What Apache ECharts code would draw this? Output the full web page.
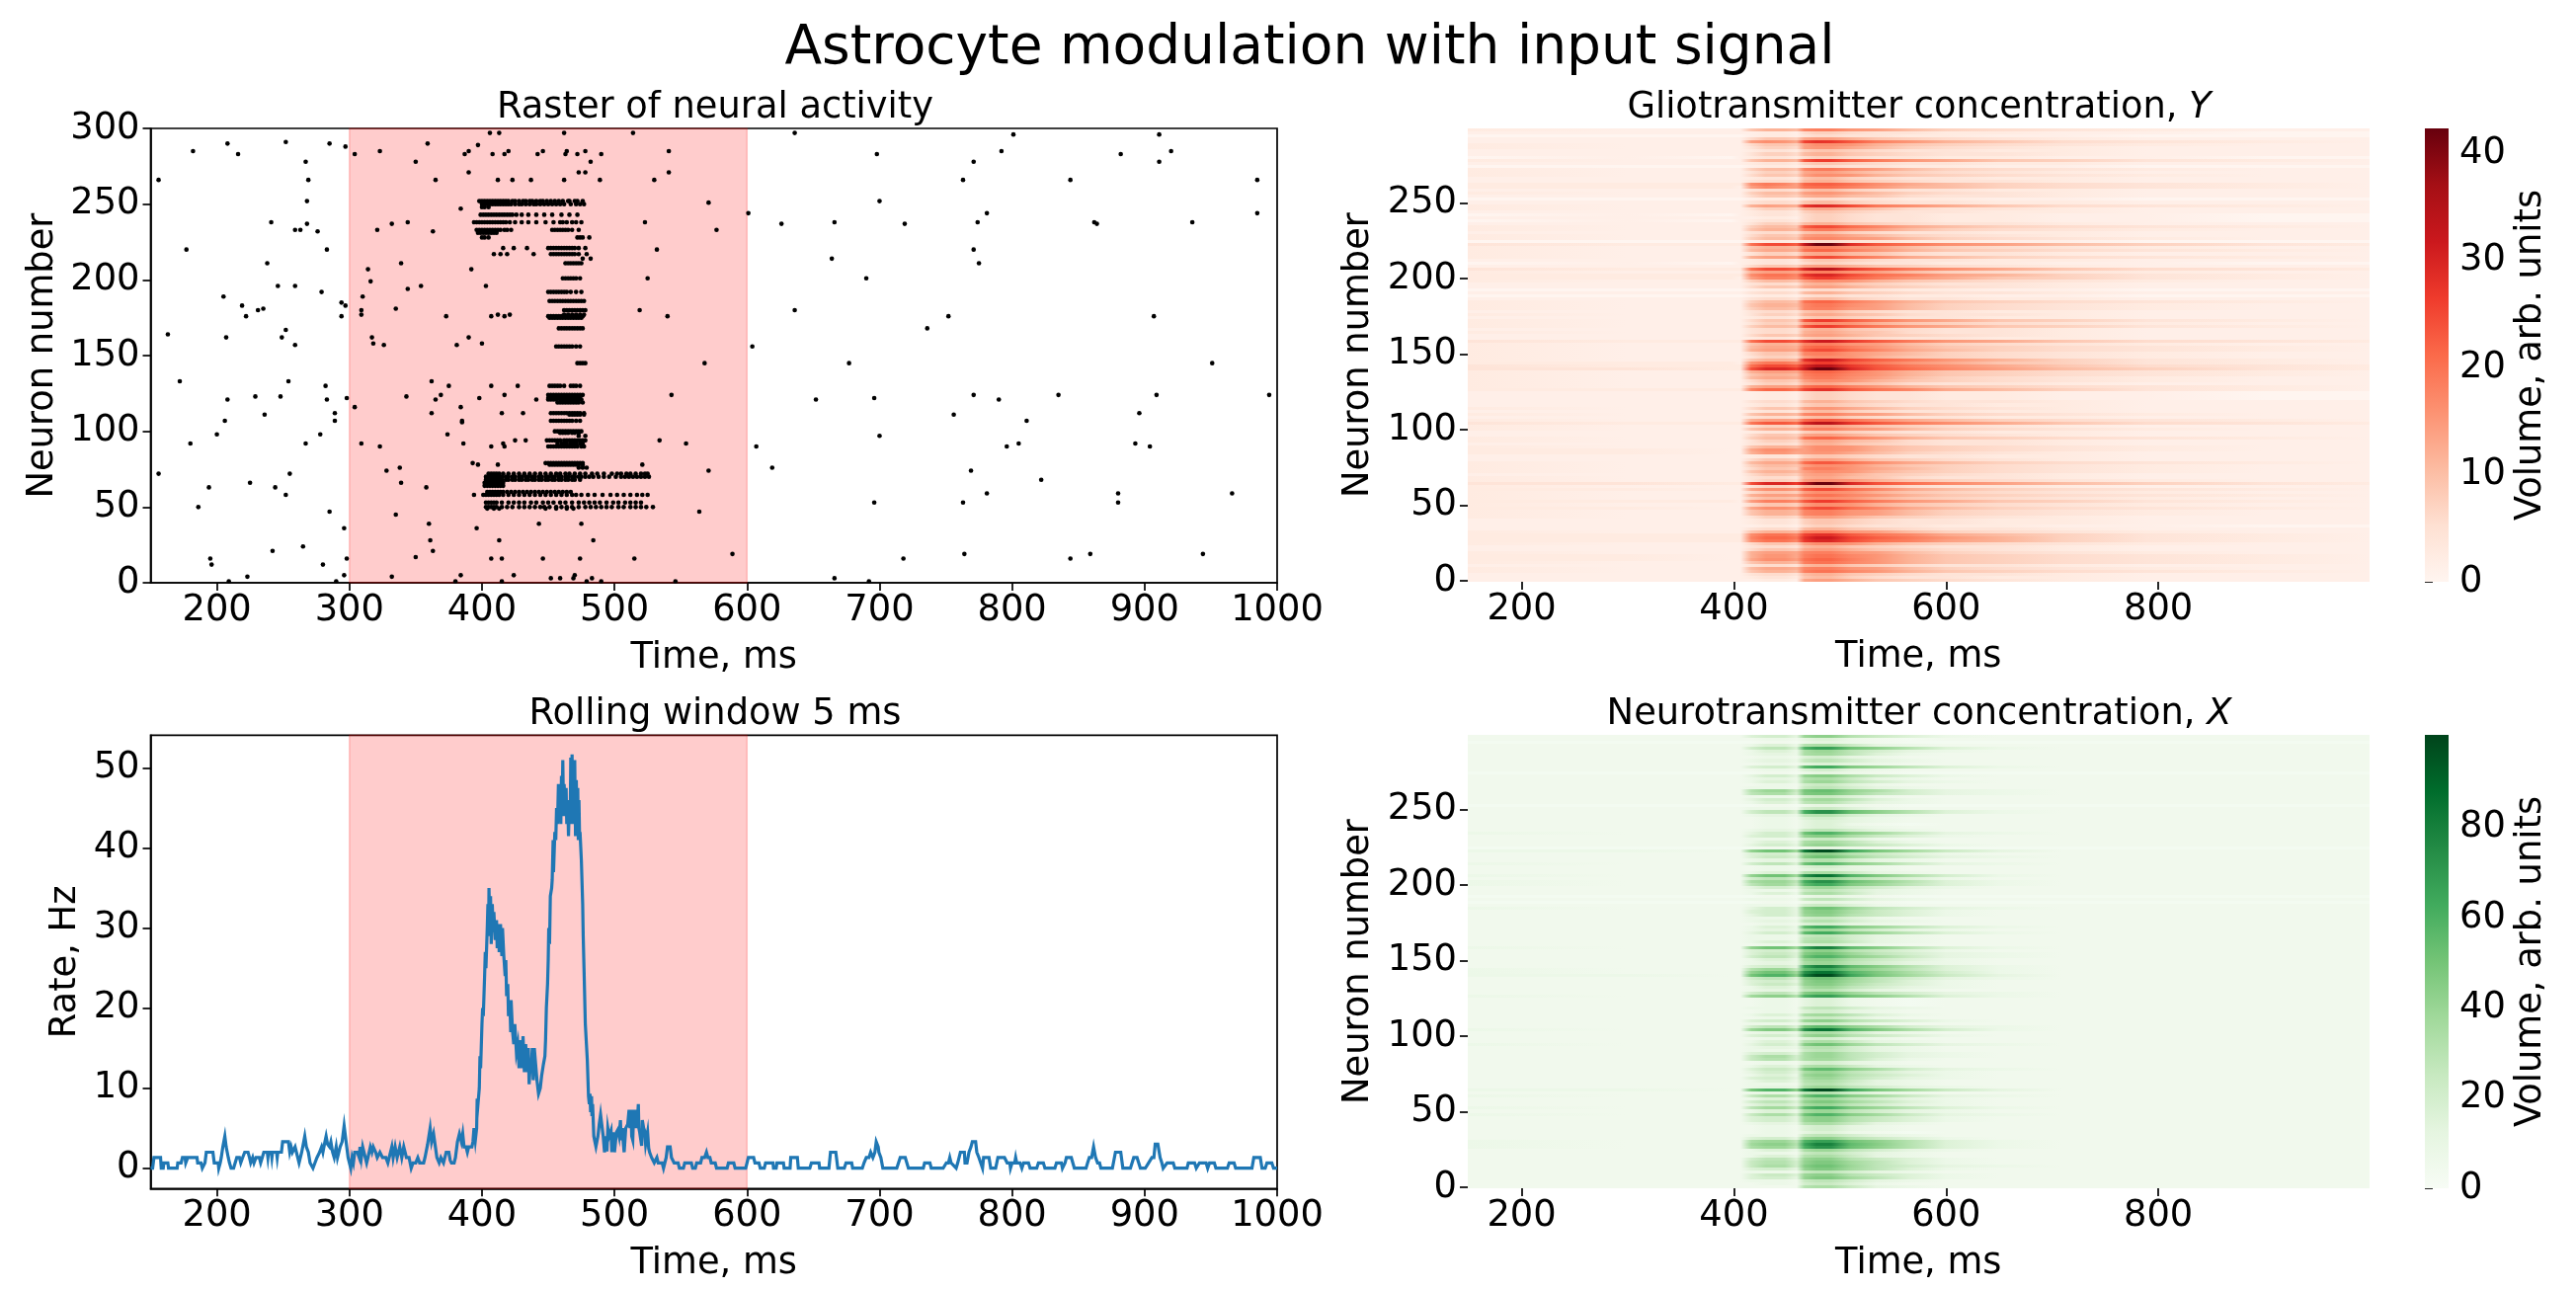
<!DOCTYPE html>
<html><head><meta charset="utf-8">
<style>html,body{margin:0;padding:0;background:#fff}#c{width:2608px;height:1306px}</style>
<script src="https://cdn.jsdelivr.net/npm/echarts@6/dist/echarts.min.js"></script>
</head><body><div id="c"></div>
<script>
const FONT='DejaVu Sans';
const figureTitle='Astrocyte modulation with input signal';
const rasterXTicks=[200,300,400,500,600,700,800,900,1000];
const rasterYTicks=[0,50,100,150,200,250,300];
const rateYTicks=[0,10,20,30,40,50];
const heatXTicks=[200,400,600,800];
const heatYTicks=[0,50,100,150,200,250];
const redsTicks=[0,10,20,30,40];
const greensTicks=[0,20,40,60,80];
const stimulusWindow=[[300,600]];
const redsStops=['#fff5f0','#fee0d2','#fcbba1','#fc9272','#fb6a4a','#ef3b2c','#cb181d','#a50f15','#67000d'];
const greensStops=['#f7fcf5','#e5f5e0','#c7e9c0','#a1d99b','#74c476','#41ab5d','#238b45','#006d2c','#00441b'];
const redsMax=42.3, greensMax=100.5;
// what each base-36 level in the row strings stands for, in arb. units
const redsLevelValues=[0,1.4,2.6,4.2,5.8,7.4,9,10.4,11.8,13,14.2,15.4,16.4,17.4,18.4,19.2,20,20.8,21.6,22.4,23.2,24,24.8,25.6,26.4,27.2,28,28.8,29.6,30.6,31.6,32.6,34,36,39,42];
const greensLevelValues=[0,2.5,4.5,8,12,16,20,24,28,31,34,37,39,41,43,45,47,49,51,53,55,57,59,61,63,65,67,70,73,76,79,82,85,88,93,98];

// isolated spikes read from the raster: [time ms, neuron]
const sparseSpikes=[[182,285],[208,290],[216,283],[252,291],[285,290],[297,288],[304,283],[323,285],[350,278],[359,290],[267,278],[156,266],[269,266],[268,252],[365,266],[390,271],[397,289],[387,283],[390,285],[408,283],[417,283],[420,285],[406,297],[413,297],[412,266],[423,266],[437,266],[442,283],[446,285],[462,297],[463,283],[464,285],[472,283],[478,285],[490,283],[482,278],[473,271],[478,271],[462,266],[489,266],[514,297],[541,285],[541,271],[530,266],[571,251],[601,244],[523,238],[577,233],[532,220],[525,201],[519,180],[540,176],[604,156],[568,145],[543,124],[534,94],[554,92],[607,90],[619,76],[521,78],[571,74],[564,47],[589,19],[515,16],[546,1],[490,1],
[241,238],[259,233],[263,233],[268,237],[276,232],[321,233],[332,237],[344,238],[363,232],[384,247],[177,220],[283,220],[238,211],[314,207],[339,211],[392,207],[316,199],[246,196],[259,196],[279,192],[344,194],[354,196],[403,196],[205,189],[310,189],[219,183],[294,185],[297,183],[231,180],[235,181],[309,180],[335,181],[222,176],[294,176],[309,177],[373,176],[407,176],[412,177],[417,176],[421,177],[252,167],[163,164],[207,162],[249,162],[317,162],[318,158],[326,157],[259,157],[390,162],[381,157],[400,158],[172,133],[254,133],[362,133],[375,130],[282,130],[407,130],[427,130],[229,123],[248,123],[208,121],[283,121],[298,122],[343,123],[369,124],[365,121],[398,122],[417,124],[441,121],[304,116],[384,116],[236,111],[289,112],[362,112],[415,112],[431,112],[206,107],[289,107],[385,107],[385,106],[200,98],[278,98],[374,98],[180,92],[267,92],[309,92],[386,92],[323,90],[407,90],[416,92],[417,90],[425,94],[433,94],[393,79],[397,78],[412,78],[338,76],[328,74],[156,72],[255,72],[225,66],[339,66],[194,63],[244,63],[358,63],[252,58],[394,58],[186,50],[285,47],[335,45],[360,39],[443,39],[475,39],[296,36],[396,36],[361,28],[413,28],[484,28],[265,24],[242,21],[363,21],[195,16],[298,16],[350,17],[407,16],[415,16],[446,16],[474,16],[196,12],[280,12],[223,4],[296,5],[332,4],[384,5],[424,5],[452,3],[459,3],[469,3],[470,5],[483,3],[209,1],[290,1],[380,1],[415,1],[479,1],
[636,297],[698,283],[801,296],[911,296],[792,285],[920,285],[882,283],[771,278],[911,278],[763,266],[844,266],[985,266],[700,252],[781,244],[985,244],[626,237],[666,238],[719,237],[774,238],[862,238],[864,237],[936,238],[771,220],[664,214],[775,211],[690,201],[636,180],[752,176],[907,176],[736,168],[677,145],[951,145],[771,124],[835,124],[909,124],[994,124],[652,121],[696,122],[790,121],[756,111],[896,112],[811,107],[700,97],[796,90],[805,92],[893,92],[904,90],[769,74],[822,68],[781,59],[880,59],[966,59],[696,53],[763,53],[880,53],[718,16],[764,19],[844,16],[859,19],[944,19],[666,3],[692,1]];

// firing trains of the synchronised neurons: [neuron, [spike times ms]]
const denseTrains=[
[252,[398,400,402,404,406,408,410,412,414,416,418,420,423,425,428,431,433,436,438,441,444,446,449,452,455,458,461,465,466,470,472,476]],
[250,[400,402,404,406,408,410,412,414,416,418,420,422,425,428,430,433,436,439,441,444,447,450,453,456,459,462,467,471,474,477]],
[248,[400,402,405]],
[243,[399,401,403,405,407,409,411,413,415,417,419,421,423,426,430,435,441,447,453,460,466,472]],
[238,[394,396,398,400,402,404,406,408,410,412,414,416,418,421,425,430,435,441,448,454,459,461,464,468,471,475]],
[233,[396,398,400,402,404,406,408,410,412,414,417,419,422,453,455,457,459,461,463,465,468,473]],
[231,[397,399,401,403,405,407,409,411]],
[228,[400,402,405,472,474,476,481]],
[221,[416,424,434,450,452,454,456,458,460,462,464,466,468,470,473,478]],
[217,[409,414,419,439,452,454,456,458,460,462,464,466,468,470,473,479]],
[214,[476,482]],
[211,[463,465,467,469,471,473,475]],
[201,[461,463,465,467,469,471,474]],
[192,[450,452,454,456,458,460,462,464,467,471,475]],
[186,[451,453,455,457,459,461,463,465,467,469,471,473,475,477]],
[180,[462,464,466,468,470,472,474,476,478]],
[177,[462,465,468,471,474,477]],
[176,[450,452,454,456,458,460,462,464,466,468,470,472,474,476]],
[175,[451,453,455,457,459,461,463,465,467,469,471,473,475]],
[168,[458,460,462,464,466,468,470,472,474,476]],
[156,[456,458,460,462,464,466,468,471,474]],
[145,[472,474,476,478]],
[130,[451,453,455,457,459,462,467,469,471,474]],
[124,[450,452,454,456,458,460,462,464,466,468,470,472,474,476]],
[122,[450,452,454,456,458,460,462,464,466,468,470,472,474]],
[121,[450,452,454,456,459,461,463,465,467,469,471,473,475]],
[119,[457,459,461,463,465,467,469,471,473,476]],
[112,[452,454,456,458,460,462,464,466,468,470,472,474,477]],
[111,[466,468,470,472,474,477]],
[107,[452,454,456,458,460,462,464,466,468,471,474]],
[100,[455,457,459,461,463,465,467,469,471,473,475]],
[99,[459,461,463,465,468,470,473]],
[97,[473,478]],
[94,[449,451,453,455,457,459,462,464,466,468,470,472,474,476,478]],
[92,[457,460,462,464,467,469,471,474,476]],
[90,[450,452,454,456,458,460,462,464,466,468,470,472,475,477]],
[79,[448,450,452,454,456,458,460,462,464,466,468,470,472,474,476]],
[78,[451,453,455,457,459,461,463,465,467,469,471,473,476]],
[76,[473,476,479]],
[72,[405,407,409,411,413,416,420,424,428,432,436,440,444,448,452,456,459,463,466,470,474,478,483,487,492,498,502,505,509,512,516,520,523,525]],
[70,[403,405,407,409,411,413,415,418,420,423,425,428,430,433,435,438,440,443,445,448,450,453,455,458,460,463,465,468,470,473,475,478,481,484,488,492,496,501,505,508,511,514,517,520,523,526]],
[68,[403,405,407,409,411,413,415,418,420,423,425,428,430,433,435,438,440,443,445,448,450,453,455,458,460,463,465,468,470,474]],
[66,[402,404,406,408,410,412,414,416]],
[64,[402,404,406,408,410,412,414,416]],
[60,[404,406,408,410,412,414,416,419,422,425,428,431,434,437,440,443,446,449,452,455,458,461,464,467]],
[58,[401,403,405,407,409,411,413,416,420,424,428,432,436,440,444,448,452,456,460,464,468,471,475,480,485,491,497,502,507,512,517,521,525]],
[53,[403,405,407,409,411,415,420,424,428,432,437,441,446,450,454,459,463,468,473,477,481,485,489,494,499,503,508,512,516,520]],
[50,[403,405,407,409,411,415,419,423,428,432,436,440,444,447,451,456,460,464,468,473,478,482,486,490,494,498,503,507,512,516,520,524,529]],
[49,[404,409,413,448,456,464,469]]
];

// population rate: [time ms, rate Hz]
const rateTrace=[[150,0],[151.5,0],[152.5,1.33],[157.5,1.33],[158,0],[159.5,0],[160,.67],[163,.67],[163.5,0],[170,0],[170.5,.67],[173,.67],[174,1.33],[176,1.33],[176.5,.67],[177.5,.67],[178,1.33],[185,1.33],[185.5,.67],[188,.67],[189,0],[190,0],[191,.67],[192,2],[197,2],[198,.67],[201,.67],[201.4,0],[202.5,.67],[203.3,1.33],[204.5,2.67],[206,4],[207,2.67],[208.6,1.33],[209.5,.67],[210.7,0],[212.6,0],[213.8,.67],[215,1.33],[217,1.33],[218,.67],[219.4,1.33],[221,2],[223.5,2],[224.6,1.33],[225.5,.67],[227,1.33],[228,.67],[229.5,1.33],[232,1.33],[233,.67],[234.2,1.33],[235.4,2],[238,2],[238.5,1.33],[239,2],[241,2],[241.5,1.33],[242,2],[245,2],[245.5,1.33],[246,2],[248.7,2],[249.6,3.3],[254,3.3],[255,2],[256,2.67],[257,2],[259,2.67],[260,2],[261,1.33],[262,.67],[264,2],[265.5,3.3],[266.3,4],[267.5,2.67],[269,2],[270.3,.67],[271.5,.67],[272.5,0],[274,.67],[275.5,1.33],[277.5,2],[279,2.67],[280,2],[281.5,3.3],[282.4,4],[283.5,3],[285,2.67],[286,3.3],[287.3,2],[288.5,1.33],[290,2.67],[291,1.33],[293,2.67],[294.5,3.3],[296,5.3],[297.5,3.3],[299,1.33],[300,.67],[301,0],[302,1.33],[303,.67],[304,2],[306,2],[307.4,1.33],[308,2.67],[309,1.33],[310,2.67],[311.4,2.67],[313,.67],[314,1.33],[315.8,2.67],[317,2],[318,2.67],[319.8,2],[321,1.33],[323,2],[325,1.33],[327.5,1.33],[329,.67],[330,1.33],[332,2.67],[333,1.33],[334.5,2.67],[336,1.33],[338,2.67],[339.5,1.33],[341,2.67],[343,1.33],[345,1.33],[346.6,0],[348,.67],[350,.67],[351.6,1.33],[353,.67],[356,.67],[357,1.33],[359,3],[360.9,5],[362,3.3],[363.5,4.3],[364.6,3],[366,1.33],[367.7,.67],[369,1.33],[371,.67],[373,2],[375,2],[376,1],[377,.67],[379,.67],[380,1.33],[381.5,3.3],[383,4.3],[384.5,3.3],[385.5,4.3],[386.5,2.67],[388,2.67],[389,2],[390,2.67],[392.4,2.67],[393.2,3.3],[394,5],[395,3.5],[396,5],[396.4,8.7],[397,8],[398,10],[398.5,14],[399,12.5],[400,18],[400.5,20],[401,19],[402,24],[402.5,27],[403,25],[404,30],[404.5,33],[405,29],[405.3,35],[406,30],[406.5,34],[407,28],[407.8,33],[408.5,29.5],[409,32],[410,28.5],[411,31],[411.5,27.5],[412.5,30.5],[413,27],[414,30.5],[415,26.5],[415.5,30],[416.5,26.5],[417.5,24],[418,26],[418.6,21.5],[419.5,23],[420,19],[421,21],[421.7,17],[422,21],[423,17.3],[424,15.5],[424.8,18],[426,14.5],[427,15.5],[428,12.5],[429,16],[430,12.5],[431,16.5],[432,12],[433,15.5],[434,12],[435,15],[435.6,10.5],[436.5,13],[437,12],[438,15],[438.7,11],[439.5,15],[440.5,13],[441.5,11],[442.7,9.3],[444,10],[445,11.5],[446.4,13],[447.5,14],[448,16],[448.6,20],[449.5,23],[450,26],[450.4,30],[451,28],[451.6,34],[452.6,35],[453,36],[453.7,41],[454,37],[455,42],[455.7,41],[456.3,45],[457,43],[457.7,48],[458.3,44],[458.8,47],[459.5,43],[460,49],[460.5,45],[461,51],[461.6,44],[462,48],[463,44],[463.5,47.5],[464,43],[464.7,46],[465.3,41.5],[466,46],[466.6,43],[467,51.3],[467.4,44],[468,51.7],[468.6,43],[469,49],[469.5,45],[470,51],[470.6,41.5],[471.2,48.5],[471.7,42.5],[472.3,47.5],[472.7,41],[473.2,46],[473.7,41],[474,42],[475,38.5],[476,33],[476.4,29],[477,25],[478,18],[479,15],[479.5,13.5],[480.4,9],[481,8],[481.5,9.3],[482,7],[482.7,9],[483,6.5],[483.5,8],[484.4,4],[485,3.5],[486,2.7],[487,2.7],[487.5,4],[488.5,5.5],[489.5,6.7],[490.6,6.6],[491.5,4],[492.5,2],[493.5,4],[494.3,2.1],[495,5],[496,4],[497.4,4.7],[498,2],[499,4.5],[500,2],[501,2],[501.5,4.5],[502.5,4.8],[503.5,4],[504.5,6],[505,3.5],[506,5],[506.5,3.5],[507.3,2],[508.5,5],[510,5.5],[511,7.3],[511.7,5],[512.5,7.3],[513,4],[513.8,3.5],[514.5,7.3],[515.3,5],[516,7.3],[517,5],[518,8],[518.4,5],[519,4.5],[520.5,2.8],[521,6],[522,5],[522.7,4.7],[523.5,3],[525,4.5],[525.8,2.5],[526.5,2],[528,1.33],[529,1.33],[530,.67],[532,1.33],[533,.67],[536,.67],[537,0],[539,1.33],[540,2.67],[542,2.67],[543,1.33],[545,.67],[548,.67],[549,0],[552,0],[553,.67],[558,.67],[559,0],[561,0],[562,.67],[565,.67],[566,1.33],[568,1.33],[569.4,2],[570.5,1.33],[572,1.33],[573,.67],[576,.67],[577,0],[585,0],[586,.67],[590,.67],[591,0],[599,0],[600,.67],[601,1.33],[605,1.33],[606,.67],[609,.67],[610,0],[613,0],[614,.67],[617.6,.67],[619.6,.67],[620,0],[622,0],[622.6,.67],[627.5,.67],[628,0],[632.5,0],[633,1.33],[638,1.33],[638.7,0],[647.4,0],[648.6,.67],[654.3,.67],[654.8,0],[661.8,0],[663,2],[667,2],[668.5,0],[673.4,0],[674.7,.67],[679,.67],[679.7,0],[687,0],[688.3,.67],[690,1.33],[692,1.33],[693.3,2],[695,1.33],[696.5,2],[697.5,3.3],[699,2.67],[699.5,2],[701,1.33],[702.5,0],[713,0],[715.6,1.33],[719.4,1.33],[721.8,0],[733,0],[734,.67],[738,.67],[739,0],[748,0],[750.4,.67],[752,.67],[753,1.33],[754,.67],[755.3,.67],[757.8,0],[759,.67],[761,2],[764,2],[764.5,.67],[766,.67],[767.5,2],[769,2.67],[770,3.3],[772.5,3.3],[773.4,2],[775,1.33],[776.4,1.33],[777.7,0],[778.5,1.33],[782.6,1.33],[783.9,0],[787.6,0],[789.3,1.33],[794.3,1.33],[796.3,.67],[798.3,.67],[798.8,0],[800,.67],[802,.67],[802.7,1.33],[803.5,.67],[806,.67],[807.4,0],[808.7,.67],[812.4,.67],[813.6,0],[818.6,0],[819.9,.67],[823.6,.67],[824.8,0],[832.3,0],[833.5,.67],[837.2,.67],[838,0],[840,.67],[841,1.33],[844.7,1.33],[847,0],[855.8,0],[857,.67],[858.3,1.33],[860,1.33],[861.5,2.67],[863,1.33],[864.5,.67],[866,.67],[867,0],[875.7,0],[878,2],[882,2],[883.6,0],[889.3,0],[891.8,1.33],[894.3,1.33],[896.8,0],[900.5,0],[903,.67],[905.5,1.33],[907,1.33],[908,3],[910,3],[911.7,1.33],[913,.67],[914,0],[917,.67],[921.6,.67],[922.8,0],[932,0],[933,.67],[937.7,.67],[939,0],[941.4,.67],[946.4,.67],[947.6,0],[949,.67],[952.6,.67],[953.8,0],[962.5,0],[963.8,.67],[967.5,.67],[968.7,0],[981,0],[982.4,1.33],[987.3,1.33],[988.6,0],[991,0],[992.3,.67],[996,.67],[997.3,0],[1000,0]];

// time points (ms) of the columns of both concentration maps
const heatTimes=[149.2,300,398,406,416,430,448,459,467,478,492,510,535,565,600,650,710,790,900,998.7];

// Y: each string is one 2-neuron row, top row first; one base-36 level per time point
const gliotransmitterRows=[
'21116887deeba7543211','11111221455433221100','00001221344332211000','111146659aa865432111','1111acb9nqpkeb864321','21114665accb86543211','21113554abb975432111','11112332566543322111','11113554788654332111','01012332455433221100',
'21116887koojfb965321','11112332566543322111','00001221344332211000','21115776dffca7543211','211135549aa865432111','21114665accb86543211','11112332677543322111','11113443788654332111','2222cfdaijjgc9754321','2221adbaghheb8754321',
'11113443677543322111','21115776abb975432111','11114665899764332111','00001221344332211000','11113443677543322111','21118a98psrmfc964321','21113554899764332111','11112332566543322111','01012332455433221100','11111221455433221100',
'01012332455433221100','11113554788654332111','21115776jmmhd9754321','21116887dffca7543211','11113443677543322111','21114665abb975432111','21115776cddba7543211','00001221344332211000','3222gmmjvzzrkgca7532','21116887deeba7543211',
'21117998giieb8654321','21113554899764332111','21118aa9jmmhd9754321','11112332566543322111','01012332455433221100','111146659aa865432111','3222gmmjswwpkfc96432','21118aa9deeba7543211','2222cggdpssmhea85321','2221aeeckoojfb965321',
'21115776accb86543211','11113443788654332111','111146659aa865432111','00001221344332211000','11113443788654332111','00001221344332211000','11113443677543322111','21115776giieb8654321','21116887dffca7543211','21115776deeba7543211',
'11113443677543322111','21113554899764332111','11112332566543322111','21114665koojfb965321','21113554accb86543211','21115776koojfb965321','11113443788654332111','21113443899764332111','111146659aa865432111','11112332566543322111',
'3222gmmjquupkfb96432','21116887deeba7543211','21117998giieb8654321','21118aa9jmmhd9754321','21114665deeb97543211','21113554accb86543211','21116887quunjfb85321','2221bffckoojfb965321','3222gmmjswwpkfc96432','3322lssovzzslhda7532',
'21118aa9giieb8654321','21116887eggdb8654321','21117998dffca7543211','21114665accb86543211','21113554899764332111','21118aa9giieb8654321','2222diifnqqkgd975321','11111221455433221100','11111221455433221100','11111221455433221100',
'11113443788654332111','11112332566543322111','21114665abb975432111','11112332677543322111','21116887deeba7543211','11113443677543322111','21118aa9hkkgc9754321','3222fkkhswwpkfc96432','211135549aa865432111','21116887deeba7543211',
'11112332566543322111','111146659aa865432111','21115776giieb8654321','21113554899764332111','11113443788654332111','21116887accb86543211','22119ccaaccb86543211','22118bb9abb975432111','11112332566543322111','111146659aa865432111',
'21117998hkkgc9754321','21115776accb86543211','21114665deeb97543211','21116887accb86543211','111146659aa865432111','21113443899764332111','21113554accb86543211','3322lssovzzslhda7532','21113554899764332111','22119ccajmmhd9754321',
'21114665accb86543211','21118aa9eggdb8654321','21115776accb86543211','2221aeeckoojfb965321','21114665accb86543211','22119ccajmmhd9754321','21116887deeba7543211','21116887deeba7543211','211135549aa865432111','11112332566543322111',
'11112332566543322111','11111221455433221100','11113443788654332111','21116887deeba7543211','2222cggdnqqkgd975321','2222diifquunjfb85321','2222cggdpssmhea85321','21114665accb86543211','11113443788654332111','111146659aa865432111',
'21118aa9deeba7543211','22118bb9eggdb8654321','22119ccagiieb8654321','21116887eggdb8654321','11113443788654332111','21117998deeba7543211','21116887eggdb8654321','11113443788654332111','11112332677543322111','111112219aa865432111'];

// X: same layout as the rows above
const neurotransmitterRows=[
'22225664cee975322222','22222332455321222222','11111221344321111111','222235539aa743222222','22226885mqqie9532222','22223553acc864322222','22223443abb853222222','22222332566432222222','22223443788643222222','22222332455432222222',
'22225664koogc8532222','22222332566432222222','11111221344321111111','22224664dffa75322222','222234439aa743222222','22223553acc864322222','22222332677532222222','22223332788643222222','22229cc7hjjda6432222','22228aa6ghhc86432222',
'22223332677532222222','22224664abb853222222','22223553899643222222','11111221344321111111','22223332677532222222','22226885nssje9532222','22223443899643222222','22222332566432222222','22222332455432222222','22222332455321222222',
'22222332455432222222','22223443788643222222','32224664immfb7432222','22225664dffa75322222','22223332677532222222','22223553abb853222222','22224664bdd975322222','11111221344321111111','3322diibvzzphb742222','22225664cee975322222',
'22225775fiic86432222','22223443899643222222','32226885immfb7432222','22222332566432222222','22222332455432222222','222235539aa743222222','3222diibswwmga632222','22226885cee975322222','3222acc8nssje9532222','32228bb7koogc8532222',
'22224664acc864322222','22223332788643222222','222235539aa743222222','11111221344321111111','22223332788643222222','11111221344321111111','22223332677532222222','32224664fiic86432222','22225664dffa75322222','22224664cee975322222',
'22223332677532222222','22223443899643222222','22222332566432222222','22223553koogc8532222','22223443acc864322222','22224664koogc8532222','22223332788643222222','22223332899643222222','222235539aa743222222','22222332566432222222',
'3222diibpuukf9532222','22225664cee975322222','22225775fiic86432222','22226885immfb7432222','22223553cee975322222','22223443acc864322222','22225664puukf9532222','32229cc7koogc8532222','3222diibswwmga632222','3322hmmevzzphb742222',
'22226885fiic86432222','22225664dggb85322222','22225775dffa75322222','22223553acc864322222','22223443899643222222','22226885fiic86432222','3222bee9mqqie9532222','22222332455321222222','22222332455321222222','22222332455321222222',
'22223332788643222222','22222332566432222222','22223553abb853222222','22222332677532222222','22225664cee975322222','22223332677532222222','22226885hkkea6432222','3222cggaswwmga632222','222234439aa743222222','22225664cee975322222',
'22222332566432222222','222235539aa743222222','32224664fiic86432222','22223443899643222222','22223332788643222222','22225664acc864322222','22227aa6acc864322222','22227996abb853222222','22222332566432222222','222235539aa743222222',
'22225775hkkea6432222','22224664acc864322222','22223553cee975322222','22225664acc864322222','222235539aa743222222','22223332899643222222','22223443acc864322222','3322hmmevzzphb742222','22223443899643222222','32227aa6immfb7432222',
'22223553acc864322222','22226885dggb85322222','22224664acc864322222','32228bb7koogc8532222','22223553acc864322222','32227aa6immfb7432222','22225664cee975322222','22225664cee975322222','222234439aa743222222','22222332566432222222',
'22222332566432222222','22222332455321222222','22223332788643222222','22225664cee975322222','3222acc8mqqie9532222','3222bee9puukf9532222','3222acc8nssje9532222','22223553acc864322222','22223332788643222222','222235539aa743222222',
'22226885cee975322222','22227996dggb85322222','22227aa6fiic86432222','22225664dggb85322222','22223332788643222222','22225775cee975322222','22225664dggb85322222','22223332788643222222','22222332677532222222','222222229aa743222222'];

function hex(c){return [1,3,5].map(i=>parseInt(c.substr(i,2),16));}
function cmap(stops,f){
  f=Math.max(0,Math.min(1,f));
  const p=f*(stops.length-1),i=Math.min(Math.floor(p),stops.length-2),k=p-i;
  const a=hex(stops[i]),b=hex(stops[i+1]);
  return 'rgb('+a.map((v,j)=>Math.round(v+(b[j]-v)*k)).join(',')+')';
}
function heatCells(rows,levelValues){
  const cells=[];
  rows.forEach((s,i)=>{
    const n0=298-2*i-0.5;
    for(let c=0;c<heatTimes.length-1;c++){
      cells.push([heatTimes[c],heatTimes[c+1],n0,n0+2,levelValues[parseInt(s[c],36)],levelValues[parseInt(s[c+1],36)]]);
    }
  });
  return cells;
}
function heatSeries(gi,rows,levelValues,stops,max){
  return {type:'custom',xAxisIndex:gi,yAxisIndex:gi,clip:true,silent:true,animation:false,progressive:0,
    data:heatCells(rows,levelValues),encode:{x:[0,1],y:[2,3]},
    renderItem(p,api){
      const a=api.coord([api.value(0),api.value(3)]),b=api.coord([api.value(1),api.value(2)]);
      const x0=Math.round(a[0]),x1=Math.round(b[0]),y0=Math.round(a[1]),y1=Math.round(b[1]);
      return {type:'rect',shape:{x:x0,y:y0,width:x1-x0,height:y1-y0},
        style:{fill:new echarts.graphic.LinearGradient(0,0,1,0,[{offset:0,color:cmap(stops,api.value(4)/max)},{offset:1,color:cmap(stops,api.value(5)/max)}])}};
    }};
}
function colorbarSeries(gi,stops,max){
  return {type:'custom',xAxisIndex:gi,yAxisIndex:gi,silent:true,animation:false,data:[[0,1,0,max]],encode:{x:[0,1],y:[2,3]},
    renderItem(p,api){
      const a=api.coord([api.value(0),api.value(3)]),b=api.coord([api.value(1),api.value(2)]);
      return {type:'rect',shape:{x:a[0],y:a[1],width:b[0]-a[0],height:b[1]-a[1]},
        style:{fill:new echarts.graphic.LinearGradient(0,1,0,0,stops.map((c,i)=>({offset:i/(stops.length-1),color:c})))}};
    }};
}
function spanSeries(gi){
  return {type:'custom',xAxisIndex:gi,yAxisIndex:gi,z:1,silent:true,animation:false,data:stimulusWindow,encode:{x:[0,1]},
    renderItem(p,api){
      const c=p.coordSys,a=api.coord([api.value(0),0]),b=api.coord([api.value(1),0]);
      return {type:'rect',shape:{x:a[0],y:c.y,width:b[0]-a[0],height:c.height},
        style:{fill:'rgba(255,0,0,0.2)',stroke:'rgba(255,0,0,0.2)',lineWidth:1.5}};
    }};
}
const TICK=36.8;
function xAxis(gi,min,max,ticks,name,border){
  return {type:'value',gridIndex:gi,min,max,name,nameLocation:'middle',nameGap:58,
    nameTextStyle:{fontFamily:FONT,fontSize:TICK,color:'#000'},
    splitLine:{show:false},axisLine:{show:border,onZero:false,lineStyle:{color:'#000',width:1.7}},
    axisTick:{show:true,length:8,customValues:ticks,lineStyle:{color:'#000',width:1.7}},
    axisLabel:{customValues:ticks,fontFamily:FONT,fontSize:TICK,color:'#000',margin:10,formatter:v=>String(v),hideOverlap:false,showMinLabel:true,showMaxLabel:true}};
}
function yAxis(gi,min,max,ticks,name,gap,border){
  return {type:'value',gridIndex:gi,min,max,name,nameLocation:'middle',nameGap:gap,
    nameTextStyle:{fontFamily:FONT,fontSize:TICK,color:'#000'},
    splitLine:{show:false},axisLine:{show:border,onZero:false,lineStyle:{color:'#000',width:1.7}},
    axisTick:{show:true,length:8,customValues:ticks,lineStyle:{color:'#000',width:1.7}},
    axisLabel:{customValues:ticks,fontFamily:FONT,fontSize:TICK,color:'#000',margin:11,padding:[6,0,0,0],formatter:v=>String(v),showMinLabel:true,showMaxLabel:true}};
}
function cbarAxis(gi,max,ticks){
  return {type:'value',gridIndex:gi,position:'right',min:0,max,name:'Volume, arb. units',nameLocation:'middle',nameGap:65,nameRotate:90,
    nameTextStyle:{fontFamily:FONT,fontSize:TICK,color:'#000'},splitLine:{show:false},axisLine:{show:false},
    axisTick:{show:true,length:8,customValues:ticks,lineStyle:{color:'#000',width:1.7}},
    axisLabel:{customValues:ticks,fontFamily:FONT,fontSize:TICK,color:'#000',margin:11,padding:[6,0,0,0],formatter:v=>String(v)}};
}
function hiddenX(gi){return {type:'value',gridIndex:gi,min:0,max:1,show:false};}
function subTitle(text,rich,x,top){
  return {text,left:x,top,textAlign:'center',
    textStyle:{fontFamily:FONT,fontSize:TICK,fontWeight:'normal',color:'#000',
      rich:rich?{a:{fontFamily:FONT,fontSize:TICK,color:'#000'},i:{fontFamily:FONT,fontSize:TICK,fontStyle:'italic',color:'#000'}}:undefined}};
}
const rasterPoints=sparseSpikes.slice();
denseTrains.forEach(r=>r[1].forEach(t=>rasterPoints.push([t,r[0]])));

const chart=echarts.init(document.getElementById('c'),null,{renderer:'canvas',width:2608,height:1306});
const border={show:true,borderColor:'#000',borderWidth:1.7,backgroundColor:'transparent'};
chart.setOption({
  animation:false,backgroundColor:'#fff',
  title:[
    {text:figureTitle,left:1321,top:17,textAlign:'center',textStyle:{fontFamily:FONT,fontSize:55,fontWeight:'normal',color:'#000'}},
    subTitle('Raster of neural activity',false,719,86),
    subTitle('Rolling window 5 ms',false,719,700),
    subTitle('{a|Gliotransmitter concentration, }{i|Y}',true,1938,86),
    subTitle('{a|Neurotransmitter concentration, }{i|X}',true,1938,700)
  ],
  grid:[
    Object.assign({left:152.5,width:1140.5,top:130,height:460},border),
    Object.assign({left:152.5,width:1140.5,top:744.3,height:459},border),
    {left:1486,width:912.6,top:130,height:459},
    {left:1486,width:912.6,top:744,height:459},
    {left:2455,width:24,top:130,height:459},
    {left:2455,width:24,top:744,height:459}
  ],
  xAxis:[
    xAxis(0,150,1000,rasterXTicks,'Time, ms',true),
    xAxis(1,150,1000,rasterXTicks,'Time, ms',true),
    xAxis(2,149.2,998.7,heatXTicks,'Time, ms',false),
    xAxis(3,149.2,998.7,heatXTicks,'Time, ms',false),
    hiddenX(4),hiddenX(5)
  ],
  yAxis:[
    yAxis(0,0,300,rasterYTicks,'Neuron number',91,true),
    yAxis(1,-2.54,54.1,rateYTicks,'Rate, Hz',68,true),
    yAxis(2,-0.5,299.5,heatYTicks,'Neuron number',92,false),
    yAxis(3,-0.5,299.5,heatYTicks,'Neuron number',92,false),
    cbarAxis(4,redsMax,redsTicks),
    cbarAxis(5,greensMax,greensTicks)
  ],
  series:[
    spanSeries(0),
    {type:'scatter',xAxisIndex:0,yAxisIndex:0,z:3,silent:true,animation:false,symbol:'circle',symbolSize:4.6,itemStyle:{color:'#000',opacity:1},data:rasterPoints},
    spanSeries(1),
    {type:'line',xAxisIndex:1,yAxisIndex:1,z:3,silent:true,animation:false,showSymbol:false,symbol:'none',sampling:false,lineStyle:{color:'#1f77b4',width:3.2,join:'miter'},data:rateTrace},
    heatSeries(2,gliotransmitterRows,redsLevelValues,redsStops,redsMax),
    heatSeries(3,neurotransmitterRows,greensLevelValues,greensStops,greensMax),
    colorbarSeries(4,redsStops,redsMax),
    colorbarSeries(5,greensStops,greensMax)
  ]
});
</script></body></html>
